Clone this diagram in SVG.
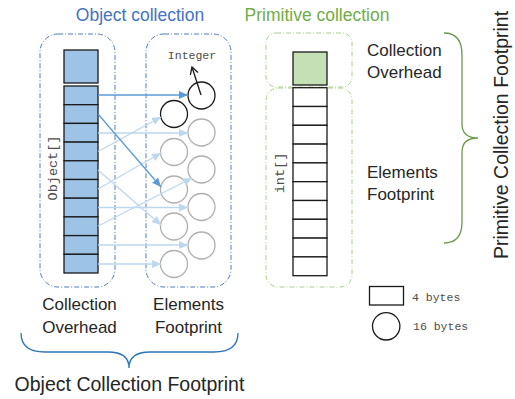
<svg xmlns="http://www.w3.org/2000/svg" width="515" height="399" viewBox="0 0 515 399">
<style>
.sans{font-family:"Liberation Sans",Arial,sans-serif;fill:#262626}
.mono{font-family:"Liberation Mono","Courier New",monospace;fill:#4d4d4d}
.bbox{fill:none;stroke:#4A7EBB;stroke-width:1;stroke-dasharray:5 2 1 2}
.gbox{fill:none;stroke:#A9D18E;stroke-width:1;stroke-dasharray:5 2 1 2}
.cellb{fill:#9DC3E6;stroke:#1a1a1a;stroke-width:1.3}
.cellg{fill:#C5E0B4;stroke:#1a1a1a;stroke-width:1.3}
.cellw{fill:#fff;stroke:#1a1a1a;stroke-width:1.3}
.cb{fill:#fff;stroke:#1a1a1a;stroke-width:1.3}
.cg{fill:#fff;stroke:#AFAFAF;stroke-width:1.3}
.dk{stroke:#5B9BD5;stroke-width:1.3;fill:none;marker-end:url(#ad)}
.lt{stroke:#BDD7EE;stroke-width:1.3;fill:none;marker-end:url(#al)}
</style>
<defs>
<marker id="ad" markerUnits="userSpaceOnUse" markerWidth="10" markerHeight="8" refX="9" refY="4" orient="auto"><path d="M0,0 L9,4 L0,8 z" fill="#5B9BD5"/></marker>
<marker id="al" markerUnits="userSpaceOnUse" markerWidth="10" markerHeight="8" refX="9" refY="4" orient="auto"><path d="M0,0 L9,4 L0,8 z" fill="#BDD7EE"/></marker>
<marker id="ao" markerUnits="userSpaceOnUse" markerWidth="10" markerHeight="10" refX="8" refY="5" orient="auto"><path d="M1,1 L8,5 L1,9" fill="none" stroke="#1a1a1a" stroke-width="1.3"/></marker>
</defs>
<rect width="515" height="399" fill="#fff"/>

<g id="titles">
<text class="sans" x="140" y="21" font-size="17.5" text-anchor="middle" style="fill:#4472C4">Object collection</text>
<text class="sans" x="317" y="21" font-size="17.5" text-anchor="middle" style="fill:#70AD47">Primitive collection</text>
</g>

<g id="object-array">
<rect class="bbox" x="40" y="34" width="75" height="253" rx="18"/>
<rect class="cellb" x="64" y="50" width="34" height="33"/>
<rect class="cellb" x="64" y="86" width="34" height="18.7"/>
<rect class="cellb" x="64" y="104.7" width="34" height="18.7"/>
<rect class="cellb" x="64" y="123.4" width="34" height="18.7"/>
<rect class="cellb" x="64" y="142.1" width="34" height="18.7"/>
<rect class="cellb" x="64" y="160.8" width="34" height="18.7"/>
<rect class="cellb" x="64" y="179.5" width="34" height="18.7"/>
<rect class="cellb" x="64" y="198.2" width="34" height="18.7"/>
<rect class="cellb" x="64" y="216.9" width="34" height="18.7"/>
<rect class="cellb" x="64" y="235.6" width="34" height="18.7"/>
<rect class="cellb" x="64" y="254.3" width="34" height="18.7"/>
<text class="mono" font-size="13.5" text-anchor="middle" transform="translate(57,168) rotate(-90)">Object[]</text>
</g>

<g id="elements">
<rect class="bbox" x="146" y="34" width="85" height="253" rx="18"/>
<text class="mono" x="192" y="59" font-size="11.5" text-anchor="middle">Integer</text>
<circle class="cb" cx="201.5" cy="95.5" r="13.5"/>
<circle class="cb" cx="174" cy="114" r="13.5"/>
<circle class="cg" cx="201.5" cy="132.5" r="13.5"/>
<circle class="cg" cx="201.5" cy="169.5" r="13.5"/>
<circle class="cg" cx="201.5" cy="207" r="13.5"/>
<circle class="cg" cx="201.5" cy="245.5" r="13.5"/>
<circle class="cg" cx="174" cy="152" r="13.5"/>
<circle class="cg" cx="174" cy="189.5" r="13.5"/>
<circle class="cg" cx="174" cy="226.5" r="13.5"/>
<circle class="cg" cx="174" cy="264" r="13.5"/>
</g>

<g id="connectors">
<line class="lt" x1="98" y1="133" x2="188" y2="133"/>
<line class="lt" x1="98" y1="151.5" x2="161" y2="117"/>
<line class="lt" x1="98" y1="170" x2="161" y2="225"/>
<line class="lt" x1="98" y1="189" x2="161" y2="153"/>
<line class="lt" x1="98" y1="207.5" x2="188" y2="207.5"/>
<line class="lt" x1="98" y1="226" x2="192" y2="178"/>
<line class="lt" x1="98" y1="245" x2="188" y2="245"/>
<line class="lt" x1="98" y1="264" x2="161" y2="264"/>
<line class="dk" x1="98" y1="95" x2="188" y2="95"/>
<line class="dk" x1="98" y1="114" x2="161" y2="187"/>
<line x1="201" y1="95" x2="192" y2="67" stroke="#1a1a1a" stroke-width="1.3" marker-end="url(#ao)"/>
</g>

<g id="object-labels">
<text class="sans" font-size="17" text-anchor="middle"><tspan x="79.5" y="310">Collection</tspan><tspan x="79.5" y="332.5">Overhead</tspan></text>
<text class="sans" font-size="17" text-anchor="middle"><tspan x="188.5" y="310">Elements</tspan><tspan x="188.5" y="332.5">Footprint</tspan></text>
<path d="M21,333 Q21,352 45,352 L108,352 Q129,352 129,368 Q129,352 150,352 L214,352 Q238,352 238,333" fill="none" stroke="#2E75B6" stroke-width="1.3"/>
<text class="sans" x="129.5" y="390.5" font-size="19.5" text-anchor="middle">Object Collection Footprint</text>
</g>

<g id="int-array">
<rect class="gbox" x="266" y="33" width="86" height="54" rx="10"/>
<rect class="gbox" x="266" y="88" width="86" height="199" rx="12"/>
<rect class="cellg" x="293" y="52" width="34" height="33"/>
<rect class="cellw" x="293" y="87.7" width="34" height="18.8"/>
<rect class="cellw" x="293" y="106.5" width="34" height="18.8"/>
<rect class="cellw" x="293" y="125.3" width="34" height="18.8"/>
<rect class="cellw" x="293" y="144.1" width="34" height="18.8"/>
<rect class="cellw" x="293" y="162.9" width="34" height="18.8"/>
<rect class="cellw" x="293" y="181.7" width="34" height="18.8"/>
<rect class="cellw" x="293" y="200.5" width="34" height="18.8"/>
<rect class="cellw" x="293" y="219.3" width="34" height="18.8"/>
<rect class="cellw" x="293" y="238.1" width="34" height="18.8"/>
<rect class="cellw" x="293" y="256.9" width="34" height="18.8"/>
<text class="mono" font-size="13.5" text-anchor="middle" transform="translate(284,173) rotate(-90)">int[]</text>
</g>

<g id="primitive-labels">
<text class="sans" font-size="17"><tspan x="367" y="56">Collection</tspan><tspan x="367" y="78">Overhead</tspan></text>
<text class="sans" font-size="17"><tspan x="367" y="178">Elements</tspan><tspan x="367" y="200">Footprint</tspan></text>
<path d="M444,33 Q462,33 462,55 L462,124 Q462,138 478,138 Q462,138 462,152 L462,222 Q462,243 444,243" fill="none" stroke="#6A9B48" stroke-width="1.3"/>
<text class="sans" font-size="19.5" text-anchor="middle" transform="translate(508,135) rotate(-90)">Primitive Collection Footprint</text>
</g>

<g id="legend">
<rect x="369.5" y="286.5" width="34" height="18.5" fill="#fff" stroke="#1a1a1a" stroke-width="1.3"/>
<text class="mono" x="412" y="301" font-size="11.5">4 bytes</text>
<circle cx="386.2" cy="326.3" r="13.7" fill="#fff" stroke="#1a1a1a" stroke-width="1.3"/>
<text class="mono" x="413" y="330" font-size="11.5">16 bytes</text>
</g>
</svg>
